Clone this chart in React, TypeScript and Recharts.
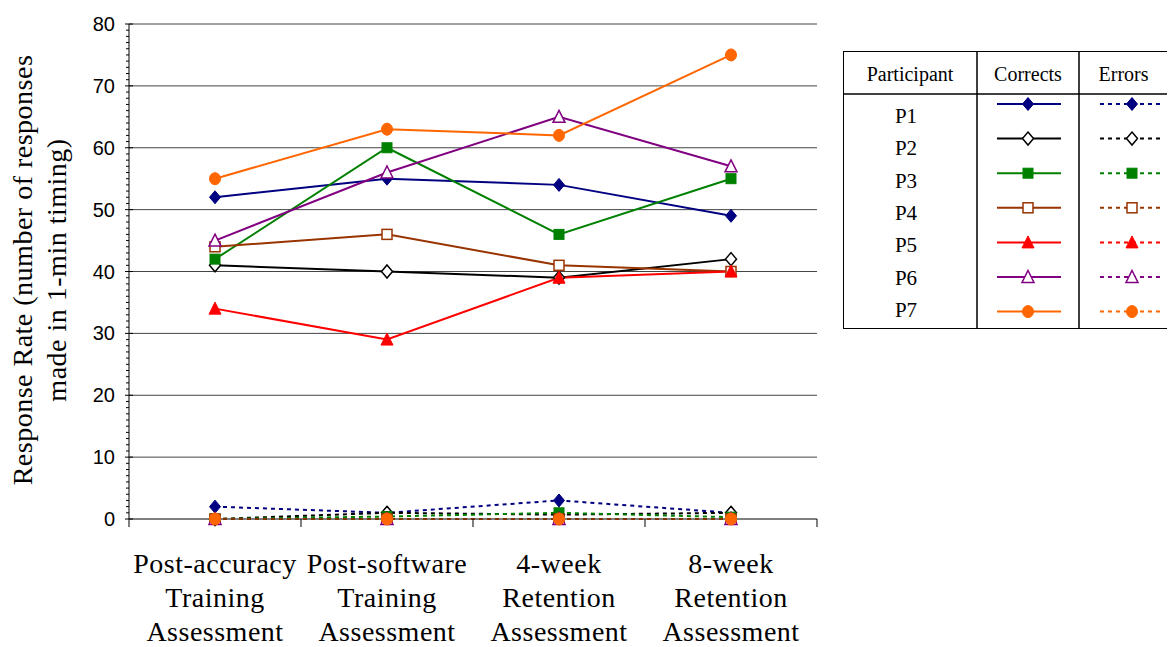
import React from 'react';
import { LineChart, Line, XAxis, YAxis, ReferenceLine } from 'recharts';

// ---------- data ----------
const categories = [
  'Post-accuracy Training Assessment',
  'Post-software Training Assessment',
  '4-week Retention Assessment',
  '8-week Retention Assessment',
];
const categoryLabelLines = [
  ['Post-accuracy', 'Training', 'Assessment'],
  ['Post-software', 'Training', 'Assessment'],
  ['4-week', 'Retention', 'Assessment'],
  ['8-week', 'Retention', 'Assessment'],
];

const participants = ['P1', 'P2', 'P3', 'P4', 'P5', 'P6', 'P7'];

const p1Corrects = [52, 55, 54, 49];
const p2Corrects = [41, 40, 39, 42];
const p3Corrects = [42, 60, 46, 55];
const p4Corrects = [44, 46, 41, 40];
const p5Corrects = [34, 29, 39, 40];
const p6Corrects = [45, 56, 65, 57];
const p7Corrects = [55, 63, 62, 75];

const p1Errors = [2, 1, 3, 1];
const p2Errors = [0, 1, 0.7, 1];
const p3Errors = [0, 0.4, 1, 0.3];
const p4Errors = [0, 0, 0, 0];
const p5Errors = [0, 0, 0, 0];
const p6Errors = [0, 0, 0, 0];
const p7Errors = [0, 0, 0, 0];

const correctsSeries = [p1Corrects, p2Corrects, p3Corrects, p4Corrects, p5Corrects, p6Corrects, p7Corrects];
const errorsSeries = [p1Errors, p2Errors, p3Errors, p4Errors, p5Errors, p6Errors, p7Errors];

const colors = ['#000080', '#000000', '#008000', '#993300', '#FF0000', '#800080', '#FF6600'];
const markerKinds = ['diamond', 'diamondOpen', 'square', 'squareOpen', 'triangle', 'triangleOpen', 'circle'];

const yMajorTicks = [0, 10, 20, 30, 40, 50, 60, 70, 80];
const yAllTicks: number[] = [];
for (let v = yMajorTicks[0]; v <= yMajorTicks[yMajorTicks.length - 1]; v += 1) yAllTicks.push(v);

const yTitleLines = ['Response Rate (number of responses', 'made in 1-min timing)'];
const legendHeaders = ['Participant', 'Corrects', 'Errors'];

const rows = categories.map((name, i) => {
  const r: any = { name };
  participants.forEach((p, k) => {
    r[`${p}c`] = correctsSeries[k][i];
    r[`${p}e`] = errorsSeries[k][i];
  });
  return r;
});

const SERIF = '"Liberation Serif", "Times New Roman", serif';
const SANS = '"Liberation Sans", Arial, sans-serif';

// ---------- marker ----------
function Marker({ kind, color, cx, cy }: { kind: string; color: string; cx: number; cy: number }) {
  if (cx == null || cy == null || isNaN(cx) || isNaN(cy)) return null;
  switch (kind) {
    case 'diamond':
      return <polygon points={`${cx},${cy - 6.5} ${cx + 5.5},${cy} ${cx},${cy + 6.5} ${cx - 5.5},${cy}`} fill={color} stroke={color} strokeWidth={1} />;
    case 'diamondOpen':
      return <polygon points={`${cx},${cy - 6.5} ${cx + 5.5},${cy} ${cx},${cy + 6.5} ${cx - 5.5},${cy}`} fill="#fff" stroke={color} strokeWidth={1.5} />;
    case 'square':
      return <rect x={cx - 5} y={cy - 5} width={10} height={10} fill={color} stroke={color} strokeWidth={1} />;
    case 'squareOpen':
      return <rect x={cx - 5} y={cy - 5} width={10} height={10} fill="#fff" stroke={color} strokeWidth={1.5} />;
    case 'triangle':
      return <polygon points={`${cx},${cy - 6.5} ${cx + 6},${cy + 5.5} ${cx - 6},${cy + 5.5}`} fill={color} stroke={color} strokeWidth={1} />;
    case 'triangleOpen':
      return <polygon points={`${cx},${cy - 6.5} ${cx + 6},${cy + 5.5} ${cx - 6},${cy + 5.5}`} fill="#fff" stroke={color} strokeWidth={1.5} />;
    case 'circle':
    default:
      return <ellipse cx={cx} cy={cy} rx={5.5} ry={6} fill={color} stroke={color} strokeWidth={1} />;
  }
}

// ---------- ticks ----------
const YTick = (props: any) => {
  const { x, y, payload } = props;
  const v = payload.value;
  const major = v % 10 === 0;
  return (
    <g>
      <line x1={x - (major ? 4 : 3)} x2={x + (major ? 4 : 0)} y1={y} y2={y} stroke="#000" strokeWidth={1} />
      {major && (
        <text x={x - 14} y={y} dy={7} textAnchor="end" fontFamily={SANS} fontSize={20} fill="#000">
          {v}
        </text>
      )}
    </g>
  );
};

const XTick = (props: any) => {
  const { x, y, payload } = props;
  const half = payload && typeof payload.offset === 'number' && payload.offset > 0 ? payload.offset : 86;
  let idx = typeof payload.index === 'number' ? payload.index : categories.indexOf(payload.value);
  if (idx < 0) idx = categories.indexOf(payload.value);
  const lines = categoryLabelLines[idx] || [String(payload.value)];
  return (
    <g>
      <line x1={x - half} x2={x - half} y1={y} y2={y + 8} stroke="#000" strokeWidth={1} />
      {idx === categories.length - 1 && <line x1={x + half} x2={x + half} y1={y} y2={y + 8} stroke="#000" strokeWidth={1} />}
      <text x={x} y={y} textAnchor="middle" fontFamily={SERIF} fontSize={28} letterSpacing={0.5} fill="#000">
        {lines.map((l, k) => (
          <tspan key={k} x={x} y={y + 54 + k * 34}>
            {l}
          </tspan>
        ))}
      </text>
    </g>
  );
};

// ---------- legend / overlay ----------
function LegendTable() {
  const left = 835;
  const top = 43;
  const w = 325;
  const h = 277;
  const col1 = 134;
  const col2 = 236;
  const headH = 43;
  return (
    <g transform={`translate(${left},${top})`}>
      <rect x={0.5} y={0.5} width={w} height={h} fill="#fff" stroke="#000" strokeWidth={1} />
      <line x1={col1} x2={col1} y1={0} y2={h} stroke="#000" strokeWidth={1.5} />
      <line x1={col2} x2={col2} y1={0} y2={h} stroke="#000" strokeWidth={1.5} />
      <line x1={0} x2={w} y1={headH} y2={headH} stroke="#000" strokeWidth={1.5} />
      <text x={col1 / 2} y={30} textAnchor="middle" fontFamily={SERIF} fontSize={20} fill="#000">{legendHeaders[0]}</text>
      <text x={(col1 + col2) / 2} y={30} textAnchor="middle" fontFamily={SERIF} fontSize={20} fill="#000">{legendHeaders[1]}</text>
      <text x={(col2 + w) / 2} y={30} textAnchor="middle" fontFamily={SERIF} fontSize={20} fill="#000">{legendHeaders[2]}</text>
      {participants.map((p, i) => {
        const ly = 53 + i * 34.6;
        const ty = 72 + i * 32.3;
        return (
          <g key={p}>
            <text x={63} y={ty} textAnchor="middle" fontFamily={SERIF} fontSize={21} fill="#000">{p}</text>
            <line x1={154} x2={218} y1={ly} y2={ly} stroke={colors[i]} strokeWidth={2} />
            <Marker kind={markerKinds[i]} color={colors[i]} cx={185} cy={ly} />
            <line x1={257} x2={318} y1={ly} y2={ly} stroke={colors[i]} strokeWidth={2} strokeDasharray="4 4" />
            <Marker kind={markerKinds[i]} color={colors[i]} cx={289} cy={ly} />
          </g>
        );
      })}
    </g>
  );
}

export default function App() {
  const W = 1167;
  const H = 639;
  return (
    <div style={{ position: 'relative', width: W, height: H, background: '#fff' }}>
      <LineChart width={W} height={H} data={rows} margin={{ top: 16, right: 358, left: 0, bottom: 0 }}>
        {yMajorTicks.filter((v) => v > 0).map((v) => (
          <ReferenceLine key={`g${v}`} y={v} stroke="#444" strokeWidth={1} />
        ))}
        <XAxis
          dataKey="name"
          scale="band"
          interval={0}
          tickSize={0}
          tickMargin={0}
          tickLine={false}
          height={128}
          axisLine={{ stroke: '#000', strokeWidth: 1 }}
          tick={<XTick />}
        />
        <YAxis
          domain={[0, 80]}
          ticks={yAllTicks}
          interval={0}
          tickSize={0}
          tickMargin={0}
          tickLine={false}
          width={121}
          axisLine={{ stroke: '#000', strokeWidth: 1 }}
          tick={<YTick />}
        />
        {participants.map((p, i) => (
          <Line
            key={`${p}c`}
            dataKey={`${p}c`}
            type="linear"
            stroke={colors[i]}
            strokeWidth={2}
            isAnimationActive={false}
            activeDot={false}
            dot={(d: any) => <Marker key={`${p}c-${d.index}`} kind={markerKinds[i]} color={colors[i]} cx={d.cx} cy={d.cy} />}
          />
        ))}
        {participants.map((p, i) => (
          <Line
            key={`${p}e`}
            dataKey={`${p}e`}
            type="linear"
            stroke={colors[i]}
            strokeWidth={2}
            strokeDasharray="4 4"
            isAnimationActive={false}
            activeDot={false}
            dot={(d: any) => <Marker key={`${p}e-${d.index}`} kind={markerKinds[i]} color={colors[i]} cx={d.cx} cy={d.cy} />}
          />
        ))}
      </LineChart>
      <svg width={W} height={H} style={{ position: 'absolute', left: 0, top: 0, pointerEvents: 'none' }}>
        <text transform="translate(24,262) rotate(-90)" textAnchor="middle" fontFamily={SERIF} fontSize={28} letterSpacing={0.5} fill="#000">
          {yTitleLines[0]}
        </text>
        <text transform="translate(58,262) rotate(-90)" textAnchor="middle" fontFamily={SERIF} fontSize={28} letterSpacing={0.5} fill="#000">
          {yTitleLines[1]}
        </text>
        <LegendTable />
      </svg>
    </div>
  );
}
